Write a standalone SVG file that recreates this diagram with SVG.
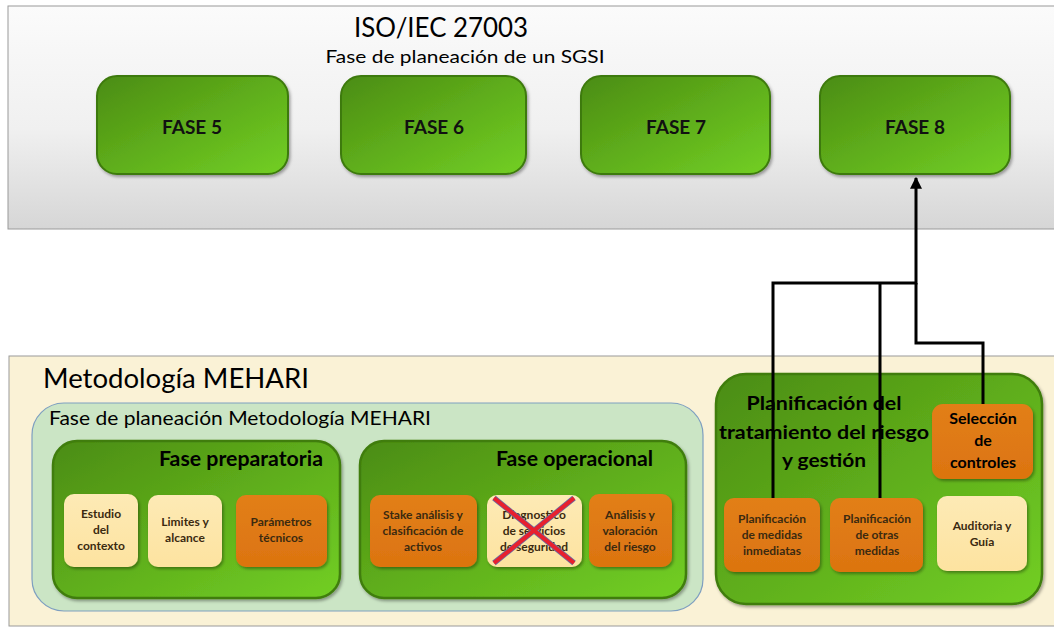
<svg xmlns="http://www.w3.org/2000/svg" width="1054" height="629" viewBox="0 0 1054 629">
<defs>
<linearGradient id="gTop" x1="0" y1="0" x2="0" y2="1">
<stop offset="0" stop-color="#fbfbfb"/><stop offset="0.55" stop-color="#f0f0f0"/><stop offset="1" stop-color="#d6d6d6"/>
</linearGradient>
<linearGradient id="gGreen" x1="0" y1="0" x2="1" y2="1">
<stop offset="0" stop-color="#4b8c12"/><stop offset="0.5" stop-color="#5fae1b"/><stop offset="1" stop-color="#72cf25"/>
</linearGradient>
<linearGradient id="gOrange" x1="0" y1="0" x2="0" y2="1">
<stop offset="0" stop-color="#e27f18"/><stop offset="1" stop-color="#dc7410"/>
</linearGradient>
<linearGradient id="gYellow" x1="0" y1="0" x2="0" y2="1">
<stop offset="0" stop-color="#fdeab5"/><stop offset="1" stop-color="#fde3a0"/>
</linearGradient>
<filter id="sh" x="-10%" y="-10%" width="125%" height="130%">
<feDropShadow dx="1.5" dy="2" stdDeviation="1.5" flood-color="#000" flood-opacity="0.35"/>
</filter>
<marker id="arr" viewBox="0 0 10 10" refX="9" refY="5" markerWidth="4" markerHeight="4" orient="auto" markerUnits="strokeWidth">
<path d="M0,0 L10,5 L0,10 z" fill="#000"/>
</marker>
<style>
.t{font-family:Lato,"Open Sans","Liberation Sans",sans-serif;fill:#000}
.b{font-weight:bold}
.fase{fill:url(#gGreen);stroke:#3e7a0c;stroke-width:2;filter:url(#sh)}
.grp{fill:url(#gGreen);stroke:#3f7d0d;stroke-width:2.5;filter:url(#sh)}
.or{fill:url(#gOrange);filter:url(#sh)}
.ye{fill:url(#gYellow);filter:url(#sh)}
.ft{font-family:Lato,"Open Sans","Liberation Sans",sans-serif;font-weight:bold;font-size:19px;fill:#111;text-anchor:middle}
.st{font-family:Lato,"Open Sans","Liberation Sans",sans-serif;font-weight:bold;font-size:12px;fill:#3b2a10;text-anchor:middle}
.conn{fill:none;stroke:#000;stroke-width:3}
</style>
</defs>

<rect width="1054" height="629" fill="#ffffff"/>

<g id="iso-panel">
<rect x="8" y="6" width="1050" height="223" fill="url(#gTop)" stroke="#9a9a9a" stroke-width="1"/>
<text class="t" x="441" y="37" font-size="27" text-anchor="middle" textLength="174" lengthAdjust="spacingAndGlyphs">ISO/IEC 27003</text>
<text class="t" x="465" y="63" font-size="18" text-anchor="middle" textLength="279" lengthAdjust="spacingAndGlyphs">Fase de planeación de un SGSI</text>
</g>

<g id="fase5"><rect class="fase" x="97" y="76" width="191" height="98" rx="20"/><text class="ft" x="192" y="134">FASE 5</text></g>
<g id="fase6"><rect class="fase" x="341" y="76" width="185" height="98" rx="20"/><text class="ft" x="434" y="134">FASE 6</text></g>
<g id="fase7"><rect class="fase" x="581" y="76" width="189" height="98" rx="20"/><text class="ft" x="676" y="134">FASE 7</text></g>
<g id="fase8"><rect class="fase" x="820" y="76" width="190" height="98" rx="20"/><text class="ft" x="915" y="134">FASE 8</text></g>

<g id="mehari-panel">
<rect x="9" y="356" width="1050" height="270" fill="#faf2d6" stroke="#9a9a9a" stroke-width="1"/>
<text class="t" x="43" y="388" font-size="26" textLength="266" lengthAdjust="spacingAndGlyphs">Metodología MEHARI</text>
</g>

<g id="fase-planeacion">
<rect x="32" y="403" width="671" height="208" rx="32" fill="#cbe5c5" stroke="#7e9fc0" stroke-width="1.2"/>
<text class="t" x="49" y="425" font-size="19" textLength="382" lengthAdjust="spacingAndGlyphs">Fase de planeación Metodología MEHARI</text>
</g>

<g id="fase-preparatoria">
<rect class="grp" x="53" y="441" width="287" height="157" rx="24"/>
<text class="t b" x="323" y="466" font-size="20" text-anchor="end" textLength="164" lengthAdjust="spacingAndGlyphs">Fase preparatoria</text>
</g>
<g id="estudio"><rect class="ye" x="64" y="494" width="74" height="73" rx="10"/>
<text class="st" x="101" y="518">Estudio</text><text class="st" x="101" y="534">del</text><text class="st" x="101" y="550">contexto</text></g>
<g id="limites"><rect class="ye" x="148" y="495" width="74" height="72" rx="10"/>
<text class="st" x="185" y="526">Limites y</text><text class="st" x="185" y="542">alcance</text></g>
<g id="parametros"><rect class="or" x="236" y="495" width="91" height="72" rx="10"/>
<text class="st" x="281" y="526">Parámetros</text><text class="st" x="281" y="542">técnicos</text></g>

<g id="fase-operacional">
<rect class="grp" x="360" y="441" width="326" height="157" rx="24"/>
<text class="t b" x="653" y="466" font-size="20" text-anchor="end" textLength="157" lengthAdjust="spacingAndGlyphs">Fase operacional</text>
</g>
<g id="stake"><rect class="or" x="370" y="495" width="107" height="72" rx="10"/>
<text class="st" x="423" y="519">Stake análisis y</text><text class="st" x="423" y="535">clasificación de</text><text class="st" x="423" y="551">activos</text></g>
<g id="diagnostico"><rect class="ye" x="487" y="495" width="95" height="72" rx="10"/>
<text class="st" x="534" y="519">Diagnostico</text><text class="st" x="534" y="535">de servicios</text><text class="st" x="534" y="551">de seguridad</text>
<g stroke-linecap="butt">
<line x1="494" y1="498" x2="574" y2="563" stroke="#6a6aa0" stroke-width="5.5"/>
<line x1="574" y1="498" x2="494" y2="563" stroke="#6a6aa0" stroke-width="5.5"/>
<line x1="494" y1="498" x2="574" y2="563" stroke="#e8202e" stroke-width="4"/>
<line x1="574" y1="498" x2="494" y2="563" stroke="#e8202e" stroke-width="4"/>
</g></g>
<g id="analisis"><rect class="or" x="589" y="494" width="83" height="73" rx="10"/>
<text class="st" x="630" y="519">Análisis y</text><text class="st" x="630" y="535">valoración</text><text class="st" x="630" y="551">del riesgo</text></g>

<g id="planificacion-tratamiento">
<rect class="grp" x="716" y="374" width="326" height="230" rx="30"/>
<text class="t b" x="824" y="410" font-size="19" text-anchor="middle" textLength="155" lengthAdjust="spacingAndGlyphs">Planificación del</text>
<text class="t b" x="824" y="439" font-size="19" text-anchor="middle" textLength="210" lengthAdjust="spacingAndGlyphs">tratamiento del riesgo</text>
<text class="t b" x="824" y="467" font-size="19" text-anchor="middle" textLength="84" lengthAdjust="spacingAndGlyphs">y gestión</text>
</g>
<g id="seleccion"><rect class="or" x="932" y="404" width="101" height="75" rx="11"/>
<text class="t b" x="983" y="424" font-size="16" text-anchor="middle">Selección</text>
<text class="t b" x="983" y="446" font-size="16" text-anchor="middle">de</text>
<text class="t b" x="983" y="468" font-size="16" text-anchor="middle">controles</text></g>
<g id="medidas-inmediatas"><rect class="or" x="724" y="498" width="96" height="74" rx="10"/>
<text class="st" x="772" y="523">Planificación</text><text class="st" x="772" y="539">de medidas</text><text class="st" x="772" y="555">inmediatas</text></g>
<g id="otras-medidas"><rect class="or" x="830" y="498" width="93" height="74" rx="10"/>
<text class="st" x="877" y="523">Planificación</text><text class="st" x="877" y="539">de otras</text><text class="st" x="877" y="555">medidas</text></g>
<g id="auditoria"><rect class="ye" x="937" y="496" width="90" height="75" rx="10"/>
<text class="st" x="982" y="530">Auditoria y</text><text class="st" x="982" y="546">Guía</text></g>

<g id="connectors">
<path class="conn" d="M773,498 V283 H916 V178" marker-end="url(#arr)"/>
<path class="conn" d="M880,498 V283"/>
<path class="conn" d="M983,404 V343 H916 V283"/>
</g>
</svg>
